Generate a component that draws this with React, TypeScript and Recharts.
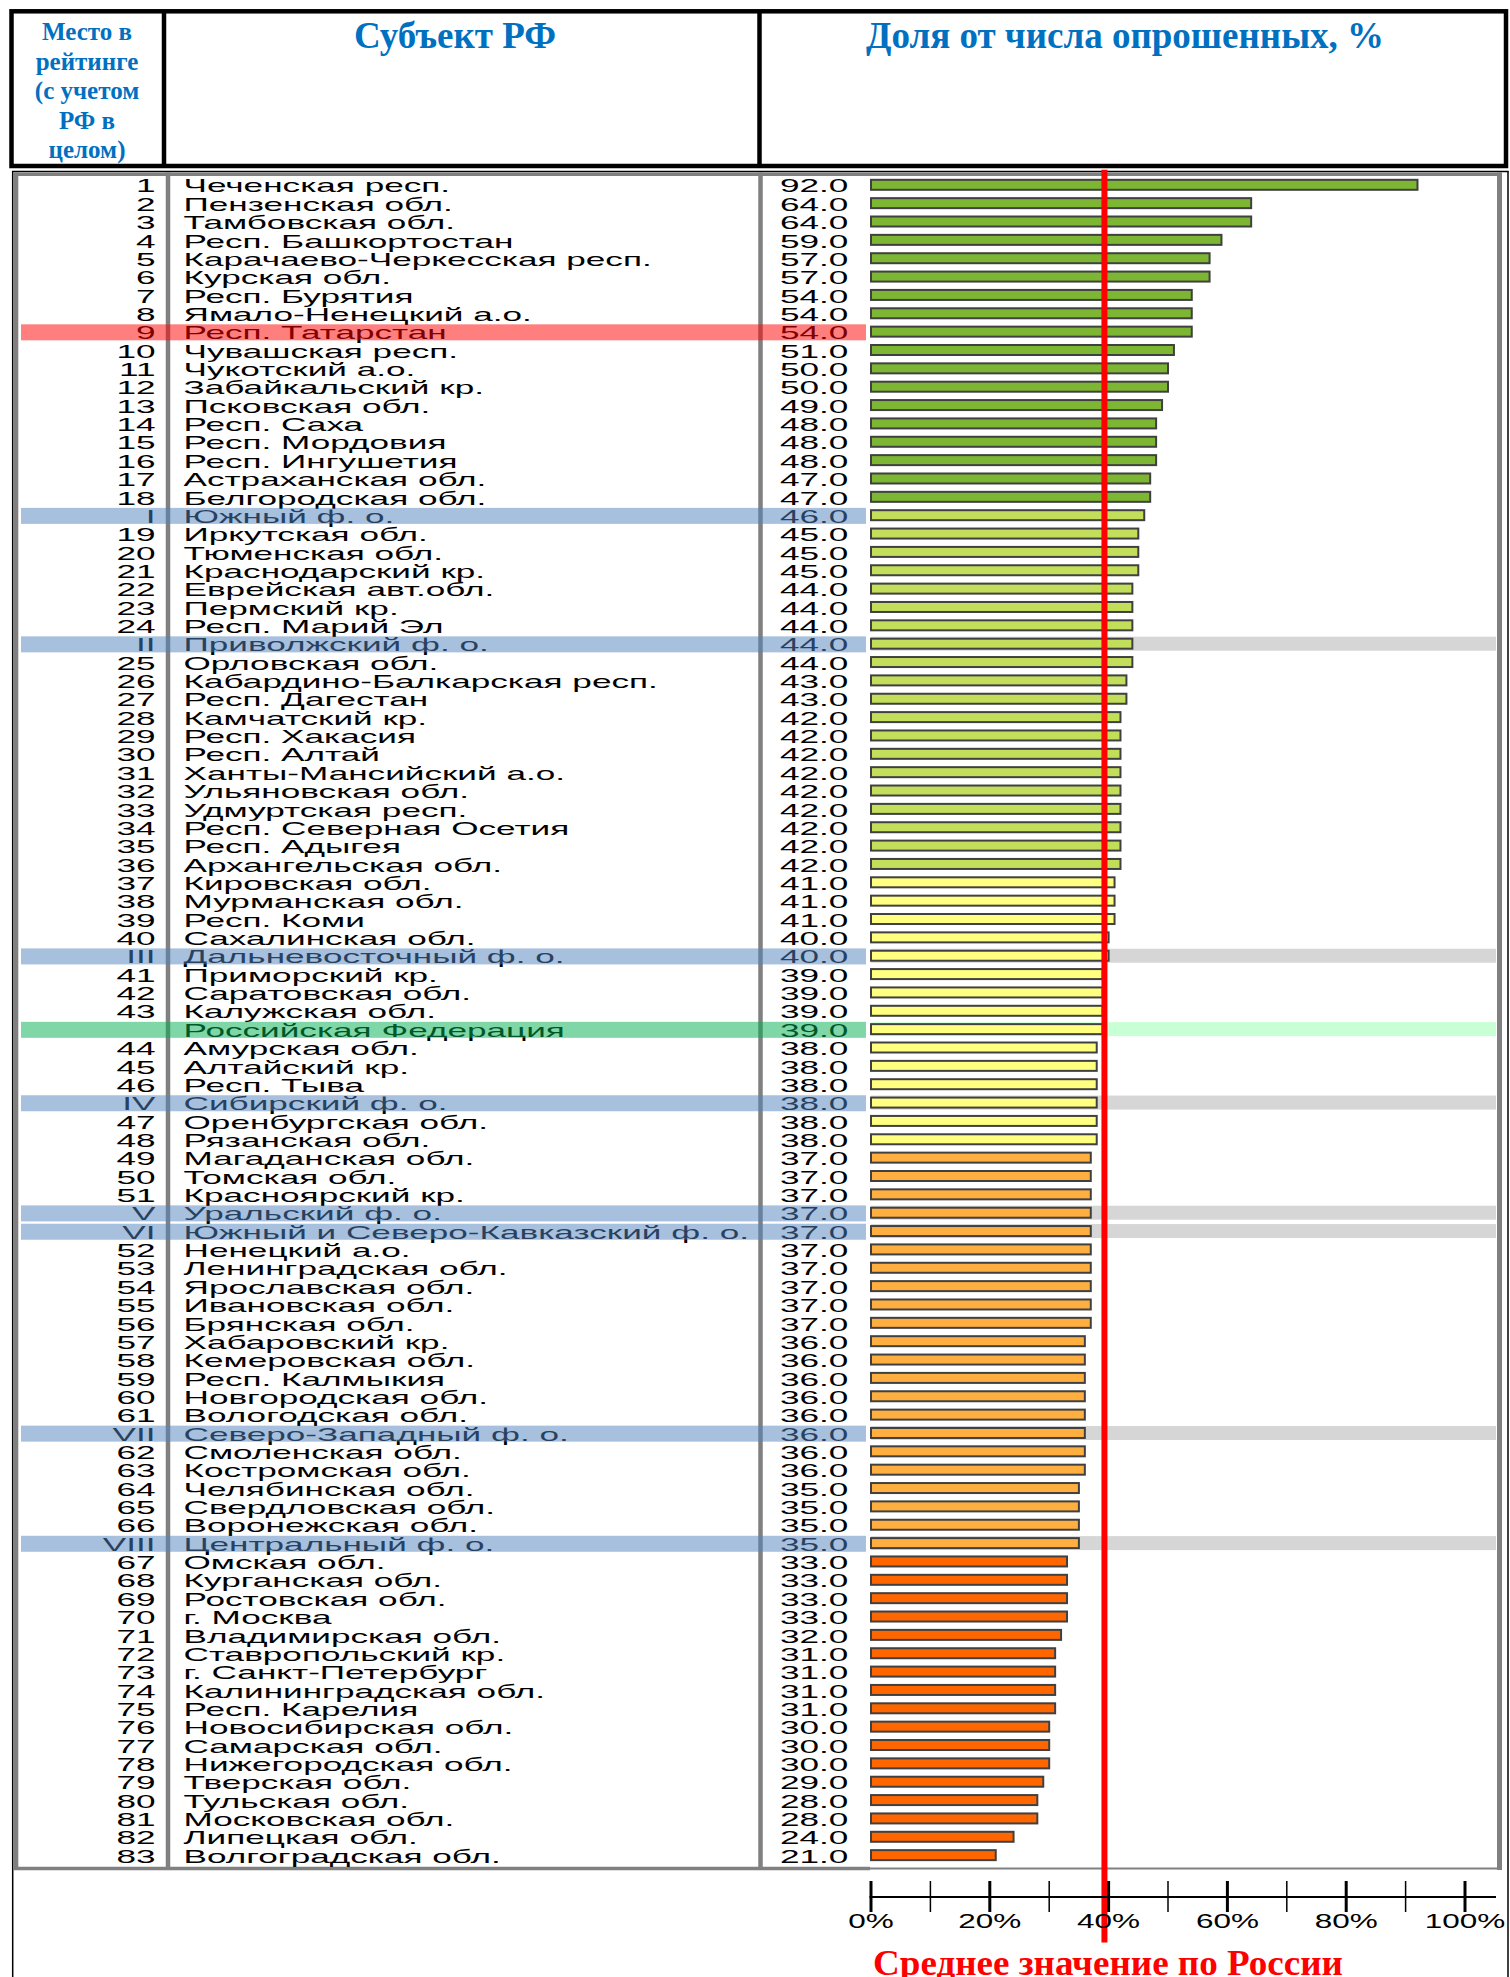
import React from "react";
import { BarChart, Bar, XAxis, YAxis, ReferenceLine } from "recharts";

const ranks = [
  "1", "2", "3", "4", "5", "6", "7", "8", "9", "10", "11", "12", "13", "14", "15", "16", "17", "18",
  "I", "19", "20", "21", "22", "23", "24", "II", "25", "26", "27", "28", "29", "30", "31", "32", "33",
  "34", "35", "36", "37", "38", "39", "40", "III", "41", "42", "43", "", "44", "45", "46", "IV", "47",
  "48", "49", "50", "51", "V", "VI", "52", "53", "54", "55", "56", "57", "58", "59", "60", "61", "VII",
  "62", "63", "64", "65", "66", "VIII", "67", "68", "69", "70", "71", "72", "73", "74", "75", "76", "77",
  "78", "79", "80", "81", "82", "83",
];

const names = [
  "Чеченская респ.", "Пензенская обл.", "Тамбовская обл.", "Респ. Башкортостан",
  "Карачаево-Черкесская респ.", "Курская обл.", "Респ. Бурятия", "Ямало-Ненецкий а.о.",
  "Респ. Татарстан", "Чувашская респ.", "Чукотский а.о.", "Забайкальский кр.", "Псковская обл.",
  "Респ. Саха", "Респ. Мордовия", "Респ. Ингушетия", "Астраханская обл.", "Белгородская обл.",
  "Южный ф. о.", "Иркутская обл.", "Тюменская обл.", "Краснодарский кр.", "Еврейская авт.обл.",
  "Пермский кр.", "Респ. Марий Эл", "Приволжский ф. о.", "Орловская обл.",
  "Кабардино-Балкарская респ.", "Респ. Дагестан", "Камчатский кр.", "Респ. Хакасия", "Респ. Алтай",
  "Ханты-Мансийский а.о.", "Ульяновская обл.", "Удмуртская респ.", "Респ. Северная Осетия",
  "Респ. Адыгея", "Архангельская обл.", "Кировская обл.", "Мурманская обл.", "Респ. Коми",
  "Сахалинская обл.", "Дальневосточный ф. о.", "Приморский кр.", "Саратовская обл.",
  "Калужская обл.", "Российская Федерация", "Амурская обл.", "Алтайский кр.", "Респ. Тыва",
  "Сибирский ф. о.", "Оренбургская обл.", "Рязанская обл.", "Магаданская обл.", "Томская обл.",
  "Красноярский кр.", "Уральский ф. о.", "Южный и Северо-Кавказский ф. о.", "Ненецкий а.о.",
  "Ленинградская обл.", "Ярославская обл.", "Ивановская обл.", "Брянская обл.", "Хабаровский кр.",
  "Кемеровская обл.", "Респ. Калмыкия", "Новгородская обл.", "Вологодская обл.",
  "Северо-Западный ф. о.", "Смоленская обл.", "Костромская обл.", "Челябинская обл.",
  "Свердловская обл.", "Воронежская обл.", "Центральный ф. о.", "Омская обл.", "Курганская обл.",
  "Ростовская обл.", "г. Москва", "Владимирская обл.", "Ставропольский кр.", "г. Санкт-Петербург",
  "Калининградская обл.", "Респ. Карелия", "Новосибирская обл.", "Самарская обл.",
  "Нижегородская обл.", "Тверская обл.", "Тульская обл.", "Московская обл.", "Липецкая обл.",
  "Волгоградская обл.",
];

const values = [
  92, 64, 64, 59, 57, 57, 54, 54, 54, 51, 50, 50, 49, 48, 48, 48, 47, 47,
  46, 45, 45, 45, 44, 44, 44, 44, 44, 43, 43, 42, 42, 42, 42, 42, 42,
  42, 42, 42, 41, 41, 41, 40, 40, 39, 39, 39, 39, 38, 38, 38, 38, 38,
  38, 37, 37, 37, 37, 37, 37, 37, 37, 37, 37, 36, 36, 36, 36, 36, 36,
  36, 36, 35, 35, 35, 35, 33, 33, 33, 33, 32, 31, 31, 31, 31, 30, 30,
  30, 29, 28, 28, 24, 21,
];

const districtRows = [
  "Южный ф. о.", "Приволжский ф. о.", "Дальневосточный ф. о.", "Сибирский ф. о.",
  "Уральский ф. о.", "Южный и Северо-Кавказский ф. о.", "Северо-Западный ф. о.", "Центральный ф. о.",
];
const grayBandRows = districtRows.slice(1);
const focusRow = "Респ. Татарстан";
const totalRow = "Российская Федерация";

const axisTicks = [0, 10, 20, 30, 40, 50, 60, 70, 80, 90, 100];
const avgLine = 39.3;

const rows = names.map((name, i) => ({ name, rank: ranks[i], value: values[i] }));
const rowByName: Record<string, { name: string; rank: string; value: number }> = {};
rows.forEach((r) => (rowByName[r.name] = r));

// page layout
const W = 1510;
const H = 1977;
const PLOT_L = 871;
const PLOT_R = 1465;
const PLOT_T = 175.8;
const PLOT_B = 1864.5;

const SANS = "'Liberation Sans', Arial, sans-serif";
const SERIF = "'Liberation Serif', 'Times New Roman', serif";
const ROW_SX = 1.85;

const barColor = (v: number) => {
  if (v >= 47) return "#7CB632";
  if (v >= 42) return "#C3DE5B";
  if (v >= 38) return "#FFFF80";
  if (v >= 35) return "#FFAF3F";
  return "#FF6600";
};

const RowTick = (props: any) => {
  const { y, payload } = props;
  const row = rowByName[payload.value];
  if (!row) return null;
  const base = y + 7.5;
  const overlay =
    row.name === focusRow ? "#FF0000" : row.name === totalRow ? "#00B050" : districtRows.includes(row.name) ? "#4F81BD" : null;
  const textProps = { fontFamily: SANS, fontSize: 19, fill: "#000" };
  return (
    <g>
      <text transform={`translate(155.5,${base}) scale(${ROW_SX},1)`} textAnchor="end" {...textProps}>
        {row.rank}
      </text>
      <text transform={`translate(183.5,${base}) scale(${ROW_SX},1)`} {...textProps}>
        {row.name}
      </text>
      <text transform={`translate(848.3,${base}) scale(${ROW_SX},1)`} textAnchor="end" {...textProps}>
        {row.value.toFixed(1)}
      </text>
      {overlay && <rect x={21} y={y - 7.5} width={845} height={16} fill={overlay} fillOpacity={0.5} />}
    </g>
  );
};

const BarShape = (props: any) => {
  const { x, y, width, height, payload } = props;
  const cy = y + height / 2;
  const band = payload.name === totalRow ? "#C8FFD4" : grayBandRows.includes(payload.name) ? "#D6D6D6" : null;
  return (
    <g>
      {band && <rect x={x} y={cy - 7} width={1496 - x} height={14} fill={band} />}
      <rect x={x} y={y} width={width} height={height} fill={barColor(payload.value)} stroke="#404040" strokeWidth={2} />
    </g>
  );
};

const AxisTick = (props: any) => {
  const { x, payload } = props;
  const v = payload.value;
  const major = v % 20 === 0;
  return (
    <g>
      {v === 0 && <line x1={x - 1.5} x2={1496} y1={1897} y2={1897} stroke="#000" strokeWidth={2} />}
      <line x1={x} x2={x} y1={1881} y2={1912} stroke="#000" strokeWidth={major ? 3 : 1.5} />
      {major && (
        <text transform={`translate(${x},1928) scale(1.5,1)`} textAnchor="middle" fontFamily={SANS} fontSize={21} fill="#000">
          {v}%
        </text>
      )}
    </g>
  );
};

// the average line runs from just under the header down past the axis
const AvgLine = (props: any) => {
  const top = Math.min(props.y1, props.y2);
  const bottom = Math.max(props.y1, props.y2);
  return <line x1={props.x1} x2={props.x2} y1={top - 6} y2={bottom + 78} stroke="#FF0000" strokeWidth={6} />;
};

const Frame = () => {
  const blue = "#0070C0";
  const gray = "#808080";
  const headLines = ["Место в", "рейтинге", "(с учетом", "РФ в", "целом)"];
  const headBase = [40, 69.5, 99, 128.5, 158];
  return (
    <svg width={W} height={H} style={{ position: "absolute", left: 0, top: 0 }}>
      <rect x={11.5} y={11.3} width={1494.5} height={154.7} fill="none" stroke="#000" strokeWidth={4.5} />
      <line x1={164} x2={164} y1={11} y2={166} stroke="#000" strokeWidth={4.5} />
      <line x1={759.5} x2={759.5} y1={11} y2={166} stroke="#000" strokeWidth={4.5} />
      {headLines.map((t, i) => (
        <text key={t} x={87} y={headBase[i]} textAnchor="middle" fontFamily={SERIF} fontWeight="bold" fontSize={25} fill={blue}>
          {t}
        </text>
      ))}
      <text x={455} y={48} textAnchor="middle" fontFamily={SERIF} fontWeight="bold" fontSize={37} fill={blue}>
        Субъект РФ
      </text>
      <text x={1125} y={48} textAnchor="middle" fontFamily={SERIF} fontWeight="bold" fontSize={37} fill={blue}>
        Доля от числа опрошенных, %
      </text>

      <line x1={12} x2={1508.5} y1={171.5} y2={171.5} stroke="#000" strokeWidth={1.5} />
      <line x1={12.7} x2={12.7} y1={171} y2={H} stroke="#000" strokeWidth={1.5} />
      <line x1={1508} x2={1508} y1={171} y2={H} stroke="#000" strokeWidth={1.5} />
      <line x1={13.5} x2={1502} y1={174.3} y2={174.3} stroke={gray} strokeWidth={3.5} />
      <line x1={15.8} x2={15.8} y1={172.5} y2={1870} stroke={gray} strokeWidth={5} />
      <line x1={1499.5} x2={1499.5} y1={172.5} y2={1870} stroke={gray} strokeWidth={5} />
      <line x1={168} x2={168} y1={172.5} y2={1870} stroke={gray} strokeWidth={4.5} />
      <line x1={760.5} x2={760.5} y1={172.5} y2={1870} stroke={gray} strokeWidth={4.5} />
      <line x1={13.5} x2={870} y1={1868.5} y2={1868.5} stroke={gray} strokeWidth={3.5} />
      <line x1={870} x2={1502} y1={1868.5} y2={1868.5} stroke={gray} strokeWidth={2} />

      <text
        transform="translate(1108,1975) scale(1.06,1)"
        textAnchor="middle"
        fontFamily={SERIF}
        fontWeight="bold"
        fontSize={35}
        fill="#FF0000"
      >
        Среднее значение по России
      </text>
    </svg>
  );
};

export default function App() {
  return (
    <div style={{ position: "absolute", left: 0, top: 0, width: W, height: H, background: "#fff", overflow: "hidden" }}>
      <Frame />
      <div style={{ position: "absolute", left: 0, top: 0 }}>
        <BarChart
          width={W}
          height={H}
          data={rows}
          layout="vertical"
          margin={{ top: PLOT_T, right: W - PLOT_R, bottom: H - PLOT_B - 60, left: PLOT_L - 60 }}
        >
          <XAxis
            type="number"
            domain={[0, 100]}
            ticks={axisTicks}
            interval={0}
            height={60}
            axisLine={false}
            tickLine={false}
            tick={<AxisTick />}
          />
          <YAxis
            type="category"
            dataKey="name"
            width={60}
            interval={0}
            axisLine={false}
            tickLine={false}
            tick={<RowTick />}
          />
          <Bar dataKey="value" barSize={10} shape={<BarShape />} isAnimationActive={false} />
          <ReferenceLine x={avgLine} stroke="#FF0000" strokeWidth={6} shape={<AvgLine />} />
        </BarChart>
      </div>
    </div>
  );
}
